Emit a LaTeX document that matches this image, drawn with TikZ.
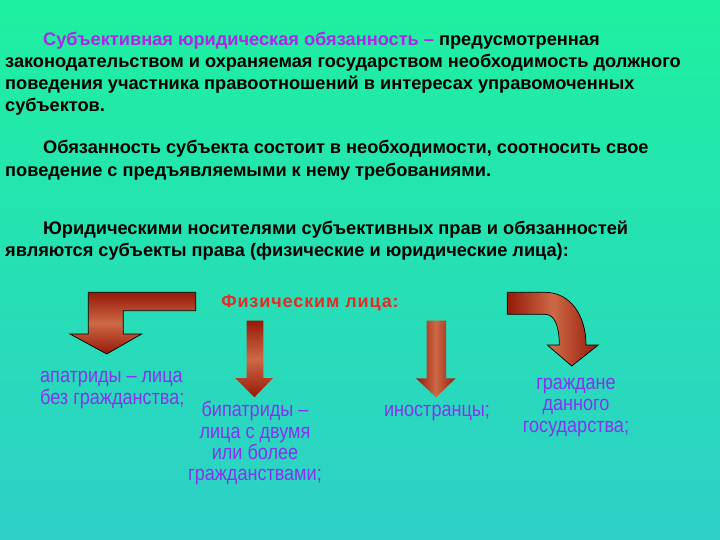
\documentclass[tikz,border=0pt]{standalone}
\usepackage{fontspec}
\setmainfont{Liberation Sans}
\newfontfamily\labfont[FakeStretch=0.86]{Liberation Sans}
\newfontfamily\titfont[LetterSpace=5]{Liberation Sans}
\definecolor{bgtop}{RGB}{30,240,160}
\definecolor{bgbot}{RGB}{46,208,200}
\definecolor{mag}{RGB}{170,40,230}
\definecolor{lab}{RGB}{135,50,240}
\definecolor{redt}{RGB}{225,45,40}
\definecolor{adark}{RGB}{150,25,8}
\definecolor{alight}{RGB}{205,105,70}
\tikzset{
  body/.style={anchor=base west, inner sep=0pt, font=\fontsize{18.2}{22}\selectfont\bfseries},
  lbl/.style={anchor=base, inner sep=0pt, text=lab, font=\labfont\fontsize{21}{21}\selectfont},
  lbll/.style={anchor=base west, inner sep=0pt, text=lab, font=\labfont\fontsize{21}{21}\selectfont},
  arrv/.style={top color=adark, bottom color=adark, middle color=alight},
  arrh/.style={left color=adark, right color=adark, middle color=alight},
  outl/.style={draw=black, line width=0.7pt}
}
\begin{document}
\begin{tikzpicture}[x=1pt,y=-1pt]
\useasboundingbox (0,0) rectangle (720,540);
\shade[top color=bgtop, bottom color=bgbot] (0,0) rectangle (720,540);
% paragraph 1
\node[body] (p1a) at (43,46) {\textcolor{mag}{Субъективная юридическая обязанность –} предусмотренная};
\node[body] (p1b) at (5,68) {законодательством и охраняемая государством необходимость должного};
\node[body] (p1c) at (5,90) {поведения участника правоотношений в интересах управомоченных};
\node[body] (p1d) at (5,112) {субъектов.};
% paragraph 2
\node[body] (p2a) at (43,154) {Обязанность субъекта состоит в необходимости, соотносить свое};
\node[body] (p2b) at (5,177) {поведение с предъявляемыми к нему требованиями.};
% paragraph 3
\node[body] (p3a) at (43,234) {Юридическими носителями субъективных прав и обязанностей};
\node[body] (p3b) at (5,256) {являются субъекты права (физические и юридические лица):};
% title
\node[anchor=base, inner sep=0pt, text=redt, font=\titfont\fontsize{18}{20}\selectfont\bfseries] (fiz) at (310,307.5) {Физическим лица:};
% arrow 1 (bent)
\shadedraw[outl, arrv] (195.7,292.3) -- (88.3,292.3) -- (88.3,334) -- (70,334) -- (106.7,354) -- (141.7,334) -- (123.3,334) -- (123.3,310.7) -- (195.7,310.7) -- cycle;
% arrow 2
\shade[arrv] (246.5,320.7) -- (263.3,320.7) -- (263.3,378) -- (273,378) -- (254.5,397.3) -- (235,378) -- (246.5,378) -- cycle;
% arrow 3
\shade[arrh] (426.7,320.7) -- (446,320.7) -- (446,378.3) -- (455.7,378.3) -- (436,397.3) -- (416,378.3) -- (426.7,378.3) -- cycle;
% arrow 4 (curved)
\shadedraw[outl, arrh] (507.3,292.3) -- (545,292.3) .. controls (570,292.3) and (586,315) .. (586,345) -- (598.3,345) -- (571.7,366) -- (547.3,345) -- (559.3,345) .. controls (559.3,327) and (555,314.3) .. (545,314.3) -- (507.3,314.3) -- cycle;
% labels
\node[lbll] (ap1) at (40,382) {апатриды – лица};
\node[lbll] (ap2) at (40,404) {без гражданства;};
\node[lbl] (bi1) at (255,416) {бипатриды –};
\node[lbl] (bi2) at (255,438) {лица с двумя};
\node[lbl] (bi3) at (255,459) {или более};
\node[lbl] (bi4) at (255,480) {гражданствами;};
\node[lbl] (in1) at (437,416) {иностранцы;};
\node[lbl] (gr1) at (576,389) {граждане};
\node[lbl] (gr2) at (576,410) {данного};
\node[lbl] (gr3) at (576,432) {государства;};
\end{tikzpicture}
\end{document}
